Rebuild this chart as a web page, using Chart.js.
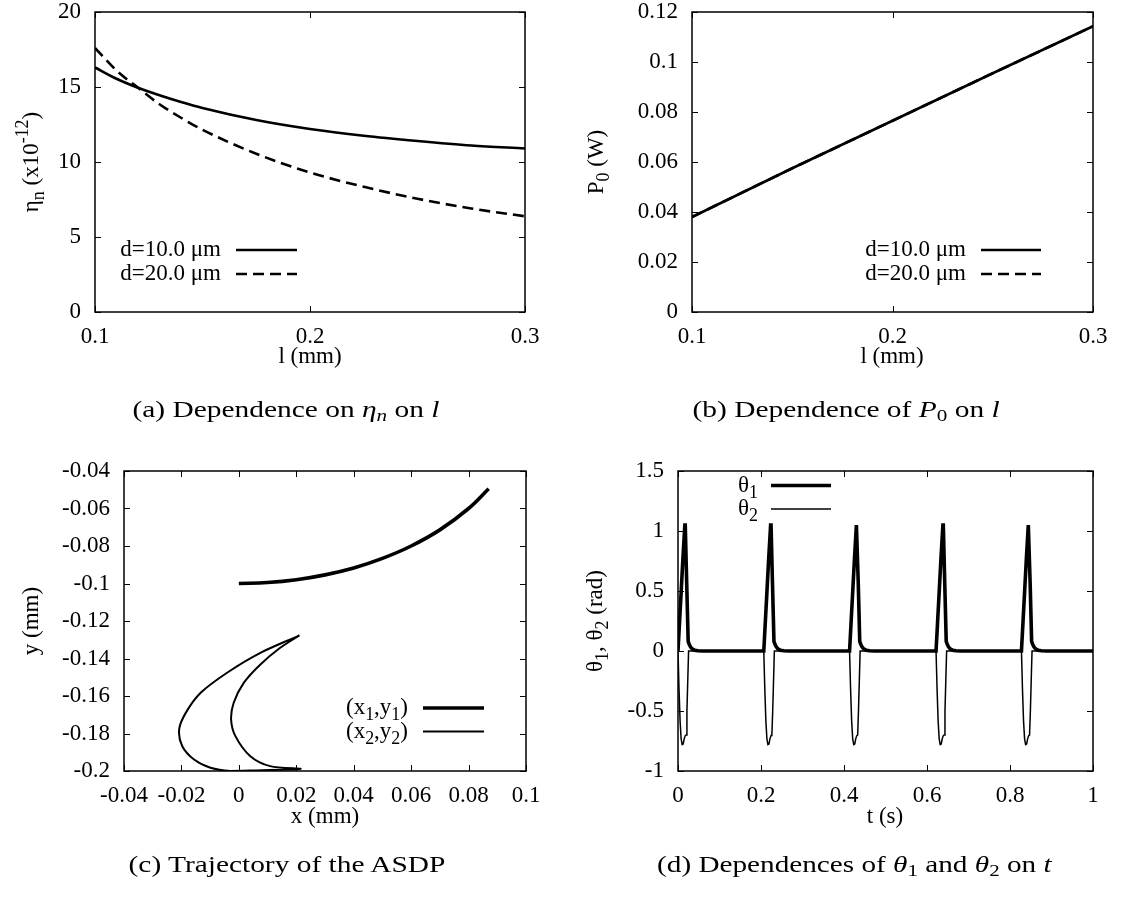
<!DOCTYPE html>
<html><head><meta charset="utf-8">
<script src="https://cdn.jsdelivr.net/npm/chart.js@4.4.1/dist/chart.umd.min.js"></script>
<style>
html,body{margin:0;padding:0;background:#fff;width:1121px;height:903px;overflow:hidden;position:relative;}
canvas{position:absolute;left:0;top:0;}
.cap{position:absolute;white-space:nowrap;font-family:"Liberation Serif",serif;font-size:23px;color:#000;line-height:1;transform-origin:center center;}
.cap sub{font-size:0.72em;vertical-align:-0.25em;line-height:0;}
</style></head><body>
<canvas id="ca" width="1121" height="903"></canvas>
<canvas id="cb" width="1121" height="903"></canvas>
<canvas id="cc" width="1121" height="903"></canvas>
<canvas id="cd" width="1121" height="903"></canvas>
<div class="cap" data-cx="286" data-cy="409" data-w="307">(a) Dependence on <i>η<sub>n</sub></i> on <i>l</i></div>
<div class="cap" data-cx="846" data-cy="409" data-w="307">(b) Dependence of <i>P</i><sub>0</sub> on <i>l</i></div>
<div class="cap" data-cx="287" data-cy="864" data-w="317">(c) Trajectory of the ASDP</div>
<div class="cap" data-cx="854" data-cy="864" data-w="395">(d) Dependences of <i>θ</i><sub>1</sub> and <i>θ</i><sub>2</sub> on <i>t</i></div>
<script>
// ---------- data ----------
const lengthMM = [0.1, 0.11, 0.12, 0.13, 0.14, 0.15, 0.175, 0.2, 0.225, 0.25, 0.275, 0.3];
const etaD10   = [16.3, 15.55, 14.95, 14.45, 14.0, 13.6, 12.8, 12.2, 11.75, 11.4, 11.1, 10.9];
const etaD20   = [17.6, 16.1, 14.95, 13.85, 12.95, 12.15, 10.55, 9.3, 8.35, 7.55, 6.9, 6.38];

const powerL   = [0.1, 0.15, 0.2, 0.25, 0.3];
const powerD10 = [0.038, 0.0575, 0.0765, 0.0955, 0.1143];
const powerD20 = [0.038, 0.0575, 0.0765, 0.0955, 0.1143];

const x1mm = [0, 0.01, 0.02, 0.03, 0.04, 0.05, 0.06, 0.07, 0.08, 0.087];
const y1mm = [-0.1, -0.0995, -0.098, -0.0954, -0.0917, -0.0866, -0.08, -0.0714, -0.06, -0.0495];

const x2mm = [0.0211, 0.0075, -0.0041, -0.0133, -0.0185, -0.0208, -0.0197, -0.0156, -0.0099, -0.0029,
              0.006, 0.015, 0.0215, 0.0109, 0.004, -0.0012, -0.0027, -0.0018, 0.0017, 0.0075, 0.0144, 0.0211];
const y2mm = [-0.1277, -0.137, -0.1476, -0.1583, -0.169, -0.1779, -0.1868, -0.1939, -0.1983, -0.2,
              -0.1997, -0.1993, -0.1988, -0.1974, -0.1921, -0.1814, -0.1725, -0.1636, -0.153, -0.1432, -0.1343, -0.1277];

const spikeStarts   = [0, 0.2067, 0.4134, 0.6218, 0.8276];
const theta1Offsets = [0, 0.004, 0.008, 0.012, 0.0165, 0.0175, 0.021, 0.0245, 0.027, 0.030, 0.034, 0.040, 0.048, 0.060];
const theta1Values  = [0, 0.26, 0.52, 0.78, 1.05, 1.05, 0.56, 0.08, 0.055, 0.035, 0.018, 0.007, 0.002, 0];
const theta2Offsets = [0, 0.0025, 0.005, 0.0075, 0.010, 0.0125, 0.015, 0.0175, 0.0195, 0.0215, 0.0235, 0.0255, 0.060];
const theta2Values  = [0, -0.32, -0.58, -0.73, -0.78, -0.775, -0.73, -0.705, -0.70, -0.50, -0.25, 0, 0];
const timeEnd = 1;

// ---------- ticks ----------
const lengthTicks = [0.1, 0.2, 0.3];            const lengthTickLabels = ['0.1', '0.2', '0.3'];
const etaTicks = [0, 5, 10, 15, 20];            const etaTickLabels = ['0', '5', '10', '15', '20'];
const powerTicks = [0, 0.02, 0.04, 0.06, 0.08, 0.1, 0.12];
const powerTickLabels = ['0', '0.02', '0.04', '0.06', '0.08', '0.1', '0.12'];
const xmmTicks = [-0.04, -0.02, 0, 0.02, 0.04, 0.06, 0.08, 0.1];
const xmmTickLabels = ['-0.04', '-0.02', '0', '0.02', '0.04', '0.06', '0.08', '0.1'];
const ymmTicks = [-0.2, -0.18, -0.16, -0.14, -0.12, -0.1, -0.08, -0.06, -0.04];
const ymmTickLabels = ['-0.2', '-0.18', '-0.16', '-0.14', '-0.12', '-0.1', '-0.08', '-0.06', '-0.04'];
const timeTicks = [0, 0.2, 0.4, 0.6, 0.8, 1];   const timeTickLabels = ['0', '0.2', '0.4', '0.6', '0.8', '1'];
const thetaTicks = [-1, -0.5, 0, 0.5, 1, 1.5];  const thetaTickLabels = ['-1', '-0.5', '0', '0.5', '1', '1.5'];

// ---------- texts ----------
const legendA = ['d=10.0 μm', 'd=20.0 μm'];
const legendC = ['(x_{1},y_{1})', '(x_{2},y_{2})'];
const legendD = ['θ_{1}', 'θ_{2}'];
const titlesA = {x: 'l (mm)', y: 'η_{n} (x10^{-12})'};
const titlesB = {x: 'l (mm)', y: 'P_{0} (W)'};
const titlesC = {x: 'x (mm)', y: 'y (mm)'};
const titlesD = {x: 't (s)', y: 'θ_{1}, θ_{2} (rad)'};

// ---------- helpers ----------
const FONT = '"Liberation Serif", "Times New Roman", serif';
const FS = 23;
function parseRich(s){
  const out=[]; let i=0, cur='';
  while(i<s.length){
    const c=s[i];
    if((c==='_'||c==='^') && s[i+1]==='{'){
      if(cur){out.push({t:cur,m:0});cur='';}
      const j=s.indexOf('}',i);
      out.push({t:s.slice(i+2,j), m:c==='_'?1:2});
      i=j+1;
    } else {cur+=c;i++;}
  }
  if(cur) out.push({t:cur,m:0});
  return out;
}
function drawRich(ctx, s, x, y, align, size){
  const segs=parseRich(s);
  let total=0;
  segs.forEach(g=>{ g.sz = g.m? size*0.78 : size; ctx.font = g.sz+'px '+FONT; g.w=ctx.measureText(g.t).width; total+=g.w; });
  let cx = align==='center'? x-total/2 : align==='right'? x-total : x;
  ctx.textAlign='left'; ctx.textBaseline='middle';
  segs.forEach(g=>{
    ctx.font = g.sz+'px '+FONT;
    const dy = g.m===1? 0.32*size : g.m===2? -0.38*size : 0;
    ctx.fillText(g.t, cx, y+dy);
    cx+=g.w;
  });
}
const gpFrame = {
  id:'gpFrame',
  afterDatasetsDraw(chart, args, o){
    const {ctx, chartArea:a, scales} = chart;
    ctx.save();
    ctx.strokeStyle='#000'; ctx.lineWidth=1; ctx.setLineDash([]);
    const tl = 6;
    ctx.beginPath();
    scales.x.ticks.forEach(t=>{ const px=Math.round(scales.x.getPixelForValue(t.value))+0.5;
      ctx.moveTo(px,a.bottom); ctx.lineTo(px,a.bottom-tl); ctx.moveTo(px,a.top); ctx.lineTo(px,a.top+tl); });
    scales.y.ticks.forEach(t=>{ const py=Math.round(scales.y.getPixelForValue(t.value))+0.5;
      ctx.moveTo(a.left,py); ctx.lineTo(a.left+tl,py); ctx.moveTo(a.right,py); ctx.lineTo(a.right-tl,py); });
    ctx.stroke();
    ctx.lineWidth=1.5;
    ctx.strokeRect(a.left,a.top,a.right-a.left,a.bottom-a.top);
    ctx.restore();
  }
};
const gpLegend = {
  id:'gpLegend',
  afterDraw(chart, args, o){
    if(!o || !o.rows) return;
    const ctx=chart.ctx;
    o.rows.forEach((y,i)=>{
      const ds=chart.data.datasets[i];
      ctx.save();
      ctx.fillStyle='#000';
      drawRich(ctx, ds.label, o.textRight, y, 'right', FS);
      ctx.strokeStyle=ds.borderColor; ctx.lineWidth=ds.borderWidth; ctx.setLineDash(ds.borderDash||[]);
      ctx.beginPath(); ctx.moveTo(o.x1,y); ctx.lineTo(o.x2,y); ctx.stroke();
      ctx.restore();
    });
  }
};
const gpTitles = {
  id:'gpTitles',
  afterDraw(chart, args, o){
    if(!o || !o.x) return;
    const ctx=chart.ctx;
    ctx.save(); ctx.fillStyle='#000';
    drawRich(ctx, o.x.text, o.x.cx, o.x.cy, 'center', FS);
    ctx.translate(o.y.cx, o.y.cy); ctx.rotate(-Math.PI/2);
    drawRich(ctx, o.y.text, 0, 0, 'center', FS);
    ctx.restore();
  }
};
Chart.register(gpFrame, gpLegend, gpTitles);

const W=1121, H=903, YW=70, XH=45;
function axis(min, max, ticks, labels, isX){
  return {
    type:'linear', min, max,
    afterBuildTicks: s => { s.ticks = ticks.map(v=>({value:v})); },
    afterFit: s => { if(isX) s.height=XH; else s.width=YW; s.paddingTop=0; s.paddingBottom=0; s.paddingLeft=0; s.paddingRight=0; },
    grid:{display:false, drawTicks:false},
    border:{display:false},
    ticks:{
      color:'#000', font:{family:FONT, size:FS, lineHeight:1},
      padding: isX? 13 : 14, maxRotation:0, minRotation:0, autoSkip:false,
      callback:(v,i)=>labels[i]
    }
  };
}
function makeChart(id, area, xa, ya, datasets, legend, titles){
  return new Chart(document.getElementById(id), {
    type:'scatter',
    data:{datasets},
    options:{
      responsive:false, animation:false, devicePixelRatio:1,
      layout:{padding:{left: area.L-YW, top: area.T, right: W-area.R, bottom: H-area.B-XH}},
      elements:{point:{radius:0, hoverRadius:0}},
      plugins:{legend:{display:false}, tooltip:{enabled:false}, gpLegend:legend, gpTitles:titles},
      scales:{x:xa, y:ya},
      events:[]
    }
  });
}
const pts = (xs, ys) => xs.map((x,i)=>({x, y:ys[i]}));
function spikes(offs, vals){
  const out=[];
  spikeStarts.forEach(s=>offs.forEach((o,i)=>out.push({x:s+o, y:vals[i]})));
  out.push({x:timeEnd, y:0});
  return out;
}
const line = (label, data, width, dash, extra) => Object.assign({
  label, data, showLine:true, borderColor:'#000', backgroundColor:'#000',
  borderWidth:width, borderDash:dash, fill:false, pointRadius:0
}, extra||{});

// (a)
makeChart('ca', {L:95,R:525,T:12,B:312},
  axis(0.1,0.3,lengthTicks,lengthTickLabels,true), axis(0,20,etaTicks,etaTickLabels,false),
  [ line(legendA[0], pts(lengthMM, etaD10), 2.6, [], {cubicInterpolationMode:'monotone'}),
    line(legendA[1], pts(lengthMM, etaD20), 2.6, [11,6], {cubicInterpolationMode:'monotone'}) ],
  {rows:[250,274], textRight:221, x1:236, x2:297},
  {x:{text:titlesA.x, cx:310, cy:357}, y:{text:titlesA.y, cx:32, cy:162}});
// (b)
makeChart('cb', {L:692,R:1093,T:12,B:312},
  axis(0.1,0.3,lengthTicks,lengthTickLabels,true), axis(0,0.12,powerTicks,powerTickLabels,false),
  [ line(legendA[0], pts(powerL, powerD10), 2.6, []),
    line(legendA[1], pts(powerL, powerD20), 2.6, [11,6]) ],
  {rows:[250,274], textRight:966, x1:981, x2:1041},
  {x:{text:titlesB.x, cx:892, cy:357}, y:{text:titlesB.y, cx:597, cy:162}});
// (c)
makeChart('cc', {L:124,R:526,T:471,B:771},
  axis(-0.04,0.1,xmmTicks,xmmTickLabels,true), axis(-0.2,-0.04,ymmTicks,ymmTickLabels,false),
  [ line(legendC[0], pts(x1mm, y1mm), 3.6, [], {tension:0.4}),
    line(legendC[1], pts(x2mm, y2mm), 2, [], {tension:0.3}) ],
  {rows:[708,731.5], textRight:408, x1:423, x2:484},
  {x:{text:titlesC.x, cx:325, cy:817}, y:{text:titlesC.y, cx:32, cy:621}});
// (d)
makeChart('cd', {L:678,R:1093,T:471,B:771},
  axis(0,1,timeTicks,timeTickLabels,true), axis(-1,1.5,thetaTicks,thetaTickLabels,false),
  [ line(legendD[0], spikes(theta1Offsets, theta1Values), 3.6, []),
    line(legendD[1], spikes(theta2Offsets, theta2Values), 1.5, []) ],
  {rows:[485.5,509], textRight:758, x1:771, x2:831},
  {x:{text:titlesD.x, cx:885, cy:817}, y:{text:titlesD.y, cx:596, cy:621}});

// captions
document.querySelectorAll('.cap').forEach(el=>{
  const w=el.offsetWidth, h=el.offsetHeight;
  const cx=+el.dataset.cx, cy=+el.dataset.cy, tw=+el.dataset.w;
  el.style.left=(cx-w/2)+'px'; el.style.top=(cy-h/2)+'px';
  el.style.transform='scaleX('+(tw/w).toFixed(3)+')';
});
</script>
</body></html>
